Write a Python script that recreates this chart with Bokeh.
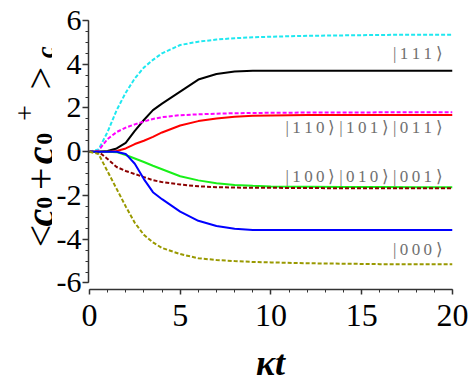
import math
from bokeh.plotting import figure
from bokeh.layouts import row
from bokeh.models import Range1d, SingleIntervalTicker, ColumnDataSource
from bokeh.core.properties import value
from bokeh.embed import file_html
from bokeh.resources import INLINE

# ---- data ----
t = [0, 0.5, 1, 1.5, 2, 2.5, 3, 3.5, 4, 5, 6, 7, 8, 9, 10, 12, 14, 16, 18, 20]
s111 = [0, 0.1, 0.9, 1.9, 2.7, 3.35, 3.85, 4.2, 4.5, 4.88, 5.03, 5.13, 5.19, 5.23, 5.26, 5.3, 5.32, 5.34, 5.35, 5.35]
s_black = [0, 0, 0.03, 0.15, 0.4, 0.95, 1.45, 1.9, 2.2, 2.75, 3.3, 3.55, 3.67, 3.7, 3.7, 3.7, 3.7, 3.7, 3.7, 3.7]
s_magenta = [0, 0.05, 0.58, 0.9, 1.1, 1.25, 1.38, 1.5, 1.58, 1.67, 1.71, 1.74, 1.76, 1.77, 1.78, 1.79, 1.79, 1.8, 1.8, 1.8]
s_red = [0, 0, 0, 0.03, 0.15, 0.35, 0.5, 0.68, 0.88, 1.2, 1.4, 1.52, 1.6, 1.64, 1.66, 1.68, 1.68, 1.68, 1.68, 1.68]
s_green = [0, 0, 0, -0.02, -0.15, -0.31, -0.47, -0.64, -0.8, -1.12, -1.31, -1.44, -1.52, -1.56, -1.59, -1.6, -1.61, -1.61, -1.62, -1.62]
s_darkred = [0, 0, -0.33, -0.7, -0.88, -1.02, -1.16, -1.3, -1.39, -1.5, -1.58, -1.62, -1.64, -1.65, -1.65, -1.66, -1.67, -1.67, -1.67, -1.67]
s_blue = [0, 0, 0, 0, -0.1, -0.55, -1.25, -1.85, -2.17, -2.74, -3.16, -3.4, -3.52, -3.58, -3.58, -3.58, -3.58, -3.58, -3.58, -3.58]
s_olive = [0, -0.1, -0.9, -1.7, -2.5, -3.25, -3.8, -4.15, -4.4, -4.68, -4.87, -4.95, -5.0, -5.04, -5.06, -5.1, -5.12, -5.14, -5.15, -5.15]

state_labels = ["|\u20091\u20091\u20091\u2009\u27e9",
                "|\u20091\u20091\u20090\u2009\u27e9 |\u20091\u20090\u20091\u2009\u27e9 |\u20090\u20091\u20091\u2009\u27e9",
                "|\u20091\u20090\u20090\u2009\u27e9 |\u20090\u20091\u20090\u2009\u27e9 |\u20090\u20090\u20091\u2009\u27e9",
                "|\u20090\u20090\u20090\u2009\u27e9"]
state_label_y = [4.5, 1.13, -1.13, -4.46]

x_ticks = [0, 5, 10, 15, 20]
y_ticks = [-6, -4, -2, 0, 2, 4, 6]

# pieces of the y-axis title  < c0 + c0^+ >_c
ytitle_text = ["<", "c", "0", "+", "c", "0", "+", ">", "c"]
ytitle_size = ["40px", "40px", "24px", "40px", "40px", "24px", "28px", "40px", "26px"]
ytitle_style = ["normal", "bold italic", "bold", "normal", "bold italic", "bold", "normal", "normal", "bold italic"]

H = 385
SIDE_W = 52
TOP, BOTTOM = 20, 92

p = figure(width=474 - SIDE_W, height=H, output_backend="svg", toolbar_location=None,
           x_range=Range1d(-0.05, 20), y_range=Range1d(-6.3, 6.0),
           min_border_left=88 - SIDE_W, min_border_right=22, min_border_top=TOP, min_border_bottom=BOTTOM)
p.outline_line_color = None
p.grid.visible = False
p.background_fill_color = "white"

series = [
    (s111, "#1fe8f0", "4 2"),
    (s_black, "#000000", "solid"),
    (s_magenta, "#ff00ff", "4 2"),
    (s_red, "#ff0000", "solid"),
    (s_green, "#19f019", "solid"),
    (s_darkred, "#8b0000", "4 2"),
    (s_blue, "#0000ff", "solid"),
    (s_olive, "#999900", "4 2"),
]
for ys, col, dash in series:
    p.line(t, ys, line_color=col, line_width=2, line_dash=dash)

# state labels
p.text(x=[19.45] * len(state_labels), y=state_label_y, text=state_labels,
       text_align="right", text_baseline="middle", text_color="#707070",
       text_font=value("Liberation Serif"), text_font_size="17px")

# axes
xa = p.xaxis[0]
xa.ticker = SingleIntervalTicker(interval=5, num_minor_ticks=5)
xa.bounds = (0, 20)
xa.major_label_overrides = {v: str(v) for v in x_ticks}
xa.axis_label = "\u03bat"
xa.axis_label_text_font = "Liberation Serif"
xa.axis_label_text_font_style = "bold italic"
xa.axis_label_text_font_size = "36px"
xa.axis_label_standoff = 14
xa.major_label_text_font = "Liberation Serif"
xa.major_label_text_font_size = "32px"
xa.major_label_standoff = 10

ya = p.yaxis[0]
ya.ticker = SingleIntervalTicker(interval=2, num_minor_ticks=4)
ya.bounds = (-6, 6)
ya.major_label_overrides = {v: str(v) for v in y_ticks}
ya.major_label_text_font = "Liberation Serif"
ya.major_label_text_font_size = "30px"
ya.major_label_standoff = 1
ya.major_label_orientation = "horizontal"

for ax, mj, mn in ((xa, 5, 3), (ya, 6, 3)):
    ax.axis_line_color = "#333333"
    ax.axis_line_width = 1.5
    ax.major_tick_line_color = "#333333"
    ax.minor_tick_line_color = "#333333"
    ax.major_tick_line_width = 1.5
    ax.minor_tick_line_width = 1
    ax.major_tick_in = 0
    ax.major_tick_out = mj
    ax.minor_tick_in = 0
    ax.minor_tick_out = mn
    ax.major_label_text_color = "black"
    ax.axis_label_text_color = "black"

# side panel holding the rotated y-axis title; its frame matches the main frame (page y 20..293),
# and its ranges are in page pixels (y counted upward from the page bottom)
side = figure(width=SIDE_W, height=H, output_backend="svg", toolbar_location=None,
              x_range=Range1d(0, SIDE_W), y_range=Range1d(BOTTOM, H - TOP),
              x_axis_type=None, y_axis_type=None,
              min_border_left=0, min_border_right=0, min_border_top=TOP, min_border_bottom=BOTTOM)
side.outline_line_color = None
side.grid.visible = False

base_x = [40, 40, 44, 40, 40, 44, 24, 40, 45]
top_y = [250, 229, 211, 192, 166, 146, 122, 90, 58]
src = ColumnDataSource(dict(x=base_x, y=[H - v for v in top_y], text=ytitle_text,
                            size=ytitle_size, style=ytitle_style))
side.text(x="x", y="y", text="text", source=src, angle=math.pi / 2,
          text_font=value("Liberation Serif"), text_font_size="size", text_font_style="style",
          text_color="black", text_align="left", text_baseline="alphabetic")

layout = row(side, p, spacing=0)
open("out.html", "w").write(file_html(layout, INLINE))
